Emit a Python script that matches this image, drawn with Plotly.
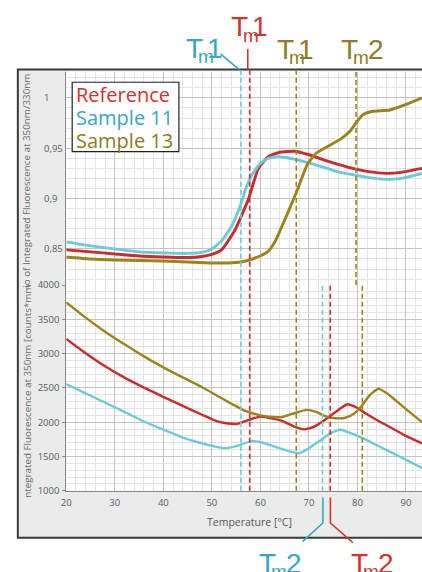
import plotly.graph_objects as go

W, H = 422, 572

# ---------------- data ----------------
# Ratio 350/330 (top panel)
ref_ratio_t = [20, 25, 30, 35, 40, 45, 48, 50, 52, 54.8, 57.5, 59.6, 61.6, 64, 67, 70, 73, 76, 79, 82, 86, 89, 93.3]
ref_ratio_v = [0.849, 0.847, 0.845, 0.843, 0.842, 0.8415, 0.8425, 0.8445, 0.849, 0.869, 0.899, 0.930, 0.9415, 0.946, 0.947, 0.9435, 0.9385, 0.934, 0.930, 0.927, 0.925, 0.926, 0.930]

s11_ratio_t = [20, 25, 30, 35, 40, 45, 48, 50, 52, 54, 55.8, 57, 58.2, 60, 61.6, 63.6, 66, 68.4, 71, 73.8, 76, 79.2, 82, 86, 89, 93.3]
s11_ratio_v = [0.857, 0.853, 0.850, 0.847, 0.846, 0.8455, 0.8465, 0.850, 0.858, 0.872, 0.892, 0.910, 0.923, 0.935, 0.940, 0.9415, 0.940, 0.9375, 0.934, 0.930, 0.9265, 0.9236, 0.921, 0.919, 0.920, 0.925]

s13_ratio_t = [20, 25, 30, 35, 40, 45, 50, 55, 57, 59, 61.6, 63, 65, 67.4, 69.7, 71.5, 73.8, 76.5, 78.5, 79.5, 81.2, 83.2, 86.7, 90.7, 93.3]
s13_ratio_v = [0.842, 0.840, 0.839, 0.8385, 0.838, 0.837, 0.836, 0.8365, 0.838, 0.841, 0.8476, 0.857, 0.8786, 0.906, 0.934, 0.945, 0.9515, 0.959, 0.967, 0.974, 0.9835, 0.9867, 0.988, 0.9948, 1.0]

# Integrated fluorescence at 350 nm (bottom panel)
ref_f_t = [20, 24, 28, 32, 36, 40, 44, 48, 51, 53, 55.2, 57.5, 59.9, 62, 64.3, 67, 69, 71, 73.1, 75.5, 77.9, 79.5, 81.9, 84.5, 87.3, 90, 93.3]
ref_f_v = [3214, 3005, 2815, 2650, 2505, 2370, 2238, 2108, 2015, 1985, 1976, 2030, 2081, 2060, 2024, 1935, 1895, 1930, 2024, 2150, 2262, 2225, 2119, 2010, 1905, 1800, 1690]

s11_f_t = [20, 24, 28, 32, 36, 40, 44, 47.5, 50.75, 52.8, 55, 58.2, 60.5, 62.95, 65.5, 68, 70, 72.4, 74.5, 76.5, 79, 81.9, 84.5, 87.3, 90, 93.3]
s11_f_v = [2557, 2420, 2285, 2150, 2010, 1890, 1776, 1700, 1643, 1619, 1650, 1724, 1700, 1643, 1585, 1548, 1620, 1738, 1840, 1890, 1830, 1738, 1645, 1548, 1450, 1333]

s13_f_t = [20, 24, 28, 32, 36, 40, 44, 48, 51, 54, 57, 60, 62.5, 64.5, 66.5, 69.5, 71.5, 73.5, 75.5, 77.5, 79.2, 80.6, 82.5, 84.3, 86, 88, 90.5, 93.3]
s13_f_v = [3747, 3525, 3320, 3135, 2960, 2800, 2653, 2510, 2390, 2270, 2160, 2100, 2075, 2075, 2120, 2180, 2150, 2085, 2058, 2065, 2120, 2214, 2390, 2486, 2425, 2310, 2160, 2000]

# Tm markers (°C)
tm1_full = {"Sample 11": 56.0, "Reference": 57.8, "Sample 13": 67.4}   # through both panels
tm2_top = {"Sample 13": 79.7}                                          # top panel only
tm2_bottom = {"Sample 11": 72.8, "Reference": 74.4, "Sample 13": 81.0}  # bottom panel only

x_ticks = [20, 30, 40, 50, 60, 70, 80, 90]
ratio_ticks = [0.85, 0.9, 0.95, 1.0]
ratio_ticktext = ["0,85", "0,9", "0,95", "1"]
fl_ticks = [1000, 1500, 2000, 2500, 3000, 3500, 4000]

# ---------------- styling ----------------
RED, CYAN, GOLD = "#cc2b2b", "#6ccbd8", "#9b841c"
RED_T, CYAN_T, GOLD_T = "#cf3530", "#36a6c6", "#8f7a28"
colors = {"Reference": RED, "Sample 11": CYAN, "Sample 13": GOLD}


def fx(px):
    return px / W


def fy(py):
    return 1 - py / H


X0 = 62
TOP_T, TOP_B = 66, 284.5
BOT_T, BOT_B = 284.5, 495

fig = go.Figure()

for name, t, v in [("Reference", ref_ratio_t, ref_ratio_v),
                   ("Sample 11", s11_ratio_t, s11_ratio_v),
                   ("Sample 13", s13_ratio_t, s13_ratio_v)]:
    fig.add_trace(go.Scatter(x=t, y=v, mode="lines", name=name, xaxis="x2", yaxis="y2",
                             line=dict(color=colors[name], width=2.9, shape="spline", smoothing=0.5),
                             showlegend=False))

for name, t, v in [("Reference", ref_f_t, ref_f_v),
                   ("Sample 11", s11_f_t, s11_f_v),
                   ("Sample 13", s13_f_t, s13_f_v)]:
    fig.add_trace(go.Scatter(x=t, y=v, mode="lines", name=name, xaxis="x", yaxis="y",
                             line=dict(color=colors[name], width=2.4, shape="spline", smoothing=0.5),
                             showlegend=False))

shapes = []
# outer panel
shapes.append(dict(type="rect", xref="paper", yref="paper", x0=fx(13), x1=fx(440), y0=fy(543), y1=fy(64),
                   fillcolor="#ebebeb", line=dict(color="#3a3a3a", width=2), layer="below"))
shapes.append(dict(type="rect", xref="paper", yref="paper", x0=fx(X0), x1=fx(440), y0=fy(BOT_B), y1=fy(TOP_T),
                   fillcolor="white", line=dict(width=0), layer="below"))

dash = "5px,3px"
for name, t in tm1_full.items():
    shapes.append(dict(type="line", xref="x", yref="paper", x0=t, x1=t, y0=fy(BOT_B), y1=fy(65),
                       line=dict(color=colors[name], width=1.6, dash=dash)))
for name, t in tm2_top.items():
    shapes.append(dict(type="line", xref="x", yref="paper", x0=t, x1=t, y0=fy(TOP_B), y1=fy(65),
                       line=dict(color=colors[name], width=1.6, dash=dash)))
for name, t in tm2_bottom.items():
    shapes.append(dict(type="line", xref="x", yref="paper", x0=t, x1=t, y0=fy(BOT_B), y1=fy(BOT_T),
                       line=dict(color=colors[name], width=1.6, dash=dash)))

# leader lines
shapes.append(dict(type="line", xref="paper", yref="paper", x0=fx(218), y0=fy(48), x1=fx(237), y1=fy(64),
                   line=dict(color=CYAN_T, width=1.6)))
shapes.append(dict(type="line", xref="paper", yref="paper", x0=fx(245.7), y0=fy(43), x1=fx(245.7), y1=fy(64),
                   line=dict(color=RED_T, width=1.6)))
shapes.append(dict(type="path", xref="paper", yref="paper",
                   path=f"M {fx(321.7)} {fy(502)} L {fx(321.7)} {fy(528)} L {fx(301)} {fy(547)}",
                   line=dict(color=CYAN_T, width=1.6)))
shapes.append(dict(type="path", xref="paper", yref="paper",
                   path=f"M {fx(329.3)} {fy(502)} L {fx(329.3)} {fy(528)} L {fx(352)} {fy(548)}",
                   line=dict(color=RED_T, width=1.6)))

# legend box
shapes.append(dict(type="rect", xref="paper", yref="paper", x0=fx(68), x1=fx(176), y0=fy(148), y1=fy(77),
                   fillcolor="white", line=dict(color="#222", width=1.2)))

FONT = "Open Sans, Arial, sans-serif"
TMFONT = "Liberation Sans, Arial, sans-serif"
ann = []
for txt, col, yc in [("Reference", RED_T, 90), ("Sample 11", CYAN_T, 113), ("Sample 13", GOLD_T, 137)]:
    ann.append(dict(text=txt, xref="paper", yref="paper", x=fx(70), y=fy(yc), xanchor="left", yanchor="middle",
                    showarrow=False, font=dict(family=FONT, size=20, color=col)))


def glyph(txt, size, x_left, baseline, col):
    return dict(text=txt, xref="paper", yref="paper", x=fx(x_left - 2), y=fy(baseline + 0.212 * size - 3),
                xanchor="left", yanchor="bottom", showarrow=False,
                font=dict(family=TMFONT, size=size, color=col))


def tm(digit, col, t_left, baseline):
    out = [glyph("T", 28, t_left, baseline, col),
           glyph("m", 19, t_left + 12, baseline + 5.5, col)]
    out.append(glyph(digit, 28, t_left + (21 if digit == "1" else 27), baseline, col))
    return out


ann += tm("1", CYAN_T, 183, 57)
ann += tm("1", RED_T, 229, 35)
ann += tm("1", GOLD_T, 275, 58)
ann += tm("2", GOLD_T, 340, 58)
ann += tm("2", CYAN_T, 257, 584)
ann += tm("2", RED_T, 350, 584)

# top-panel tick labels (left aligned, comma decimals)
for v, txt in zip(ratio_ticks, ratio_ticktext):
    ann.append(dict(text=txt, xref="paper", yref="y2", x=fx(37), y=v, xanchor="left", yanchor="middle",
                    showarrow=False, font=dict(family=FONT, size=9.5, color="#5a5a5a")))

# axis titles
ann.append(dict(text="io of Integrated Fluorescence at 350nm/330nm", xref="paper", yref="paper",
                x=fx(22), y=fy(178), textangle=-90, showarrow=False, xanchor="center", yanchor="middle",
                font=dict(family=FONT, size=9.8, color="#6a6a6a")))
ann.append(dict(text="ntegrated Fluorescence at 350nm [counts*mm", xref="paper", yref="paper",
                x=fx(22), y=fy(393), textangle=-90, showarrow=False, xanchor="center", yanchor="middle",
                font=dict(family=FONT, size=9.8, color="#6a6a6a")))
ann.append(dict(text="Temperature [°C]", xref="paper", yref="paper", x=fx(247), y=fy(527),
                showarrow=False, xanchor="center", yanchor="middle",
                font=dict(family=FONT, size=10.5, color="#555")))

grid_major = "#c4c4c4"
grid_minor = "#e4e4e4"
xcommon = dict(range=[20, 93.3], domain=[fx(X0), 1], showgrid=True, gridcolor=grid_major, gridwidth=1,
               dtick=10, tick0=0, zeroline=False,
               minor=dict(dtick=2, showgrid=True, gridcolor=grid_minor, gridwidth=1))

fig.update_layout(
    width=W, height=H,
    margin=dict(l=0, r=0, t=0, b=0),
    paper_bgcolor="white", plot_bgcolor="white",
    showlegend=False,
    xaxis=dict(**xcommon, anchor="y", tickvals=x_ticks, ticks="", showline=True, linecolor="#8a8a8a",
               tickfont=dict(family=FONT, size=9.5, color="#5a5a5a"), ticklabelstandoff=3),
    xaxis2=dict(**xcommon, anchor="y2", matches="x", showticklabels=False, ticks="", showline=False),
    yaxis=dict(range=[1000, 4000], domain=[fy(BOT_B), fy(BOT_T)], tickvals=fl_ticks, dtick=500, tick0=0,
               showgrid=True, gridcolor=grid_major, zeroline=False, showline=True, linecolor="#8a8a8a",
               minor=dict(dtick=100, showgrid=True, gridcolor=grid_minor),
               tickfont=dict(family=FONT, size=9.5, color="#5a5a5a"), ticks="outside", ticklen=3,
               tickcolor="#8a8a8a", ticklabelstandoff=1),
    yaxis2=dict(range=[0.8141, 1.0262], domain=[fy(TOP_B), fy(TOP_T)], dtick=0.05, tick0=0,
                showgrid=True, gridcolor=grid_major, zeroline=False, showline=True, linecolor="#8a8a8a",
                minor=dict(dtick=0.01, showgrid=True, gridcolor=grid_minor),
                showticklabels=False, ticks=""),
    shapes=shapes,
    annotations=ann,
)

fig.write_html("out.html")
